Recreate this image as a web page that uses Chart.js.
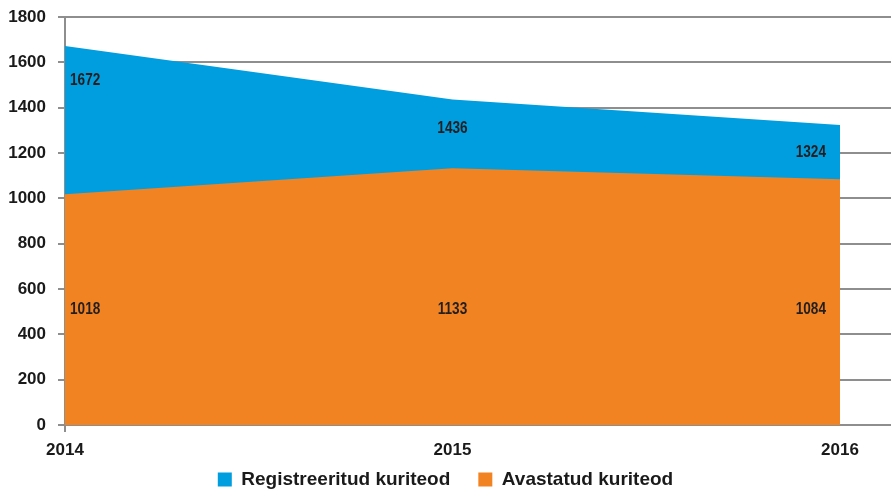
<!DOCTYPE html>
<html>
<head>
<meta charset="utf-8">
<script src="https://cdn.jsdelivr.net/npm/chart.js@4/dist/chart.umd.min.js"></script>
<style>
  html, body { margin: 0; padding: 0; background: #fff; }
  #wrap { width: 891px; height: 491px; }
</style>
</head>
<body>
<div id="wrap"><canvas id="chart"></canvas></div>
<script>
// years on the x axis
const years = [2014, 2015, 2016]
// crimes registered / crimes solved
const registered = [1672, 1436, 1324]
const solved = [1018, 1133, 1084]
const yTicks = [0, 200, 400, 600, 800, 1000, 1200, 1400, 1600, 1800]

const BLUE = '#009ddf'
const ORANGE = '#f28322'
const GRID = '#8e8e8e'
const FONT = '"Liberation Sans", Arial, sans-serif'

// value labels drawn inside the areas, squeezed to look condensed
const valueLabels = {
	id: 'valueLabels',
	afterDatasetsDraw(chart) {
		const ctx = chart.ctx
		const x = chart.scales.x
		const y = chart.scales.y
		const lowY = y.getPixelForValue(Math.min(...solved) / 2)
		ctx.save()
		ctx.font = 'bold 17px ' + FONT
		ctx.fillStyle = '#231f20'
		ctx.textBaseline = 'middle'
		const put = (text, px, py, align) => {
			ctx.save()
			ctx.translate(px, py)
			ctx.scale(0.8, 1)
			ctx.textAlign = align
			ctx.fillText(text, 0, 0)
			ctx.restore()
		}
		years.forEach((yr, i) => {
			let px = x.getPixelForValue(yr)
			let align = 'center'
			if (i === 0) { align = 'left'; px += 5 }
			if (i === years.length - 1) { align = 'right'; px -= 14 }
			put(String(registered[i]), px, y.getPixelForValue(registered[i] * 0.91), align)
			put(String(solved[i]), px, lowY, align)
		})
		ctx.restore()
	}
}

// short legend strip; items keep wide spacing and are drawn a bit higher
const legendBox = {
	id: 'legendBox',
	afterInit(chart) {
		const legend = chart.legend
		const fit = legend.fit
		const draw = legend.draw
		legend.fit = function() {
			fit.call(this)
			this.height = 32
		}
		legend.draw = function() {
			const top = this.top
			this.top = top - 17
			draw.call(this)
			this.top = top
		}
	}
}

new Chart(document.getElementById('chart'), {
	type: 'line',
	data: {
		datasets: [
			{
				label: 'Registreeritud kuriteod',
				data: years.map((yr, i) => ({ x: yr, y: registered[i] })),
				backgroundColor: BLUE,
				borderColor: BLUE,
				borderWidth: 0,
				pointRadius: 0,
				fill: 'origin',
				order: 2
			},
			{
				label: 'Avastatud kuriteod',
				data: years.map((yr, i) => ({ x: yr, y: solved[i] })),
				backgroundColor: ORANGE,
				borderColor: ORANGE,
				borderWidth: 0,
				pointRadius: 0,
				fill: 'origin',
				order: 1
			}
		]
	},
	options: {
		responsive: true,
		maintainAspectRatio: false,
		animation: false,
		layout: { padding: { top: 17, right: 0, left: 0, bottom: 0 } },
		scales: {
			x: {
				type: 'linear',
				min: 2014,
				max: 2016 + 2 * 51 / 775,
				afterBuildTicks: (axis) => { axis.ticks = years.map(v => ({ value: v })) },
				afterFit: (axis) => { axis.height = 34 },
				// only the first year gets a small tick mark below the axis
				grid: {
					drawOnChartArea: false,
					tickLength: 7,
					lineWidth: 2,
					color: (c) => c.index === 0 ? GRID : 'rgba(0,0,0,0)'
				},
				border: { display: false },
				ticks: {
					color: '#1a1a1a',
					font: { family: FONT, size: 17, weight: 'bold' },
					callback: (v) => String(v),
					padding: 8,
					maxRotation: 0
				}
			},
			y: {
				min: 0,
				max: 1800,
				afterBuildTicks: (axis) => { axis.ticks = yTicks.map(v => ({ value: v })) },
				afterFit: (axis) => {
					axis.width = 65
					axis.paddingTop = 0
					axis.paddingBottom = 0
				},
				grid: { color: GRID, lineWidth: 2, tickLength: 7 },
				border: { color: GRID, width: 2 },
				ticks: {
					color: '#1a1a1a',
					font: { family: FONT, size: 17, weight: 'bold' },
					callback: (v) => String(v),
					padding: 12
				}
			}
		},
		plugins: {
			legend: {
				position: 'bottom',
				labels: {
					boxWidth: 14,
					boxHeight: 14,
					padding: 28,
					color: '#1a1a1a',
					font: { family: FONT, size: 19, weight: 'bold' },
					sort: (a, b) => a.datasetIndex - b.datasetIndex
				}
			},
			tooltip: { enabled: false }
		}
	},
	plugins: [valueLabels, legendBox]
})
</script>
</body>
</html>
